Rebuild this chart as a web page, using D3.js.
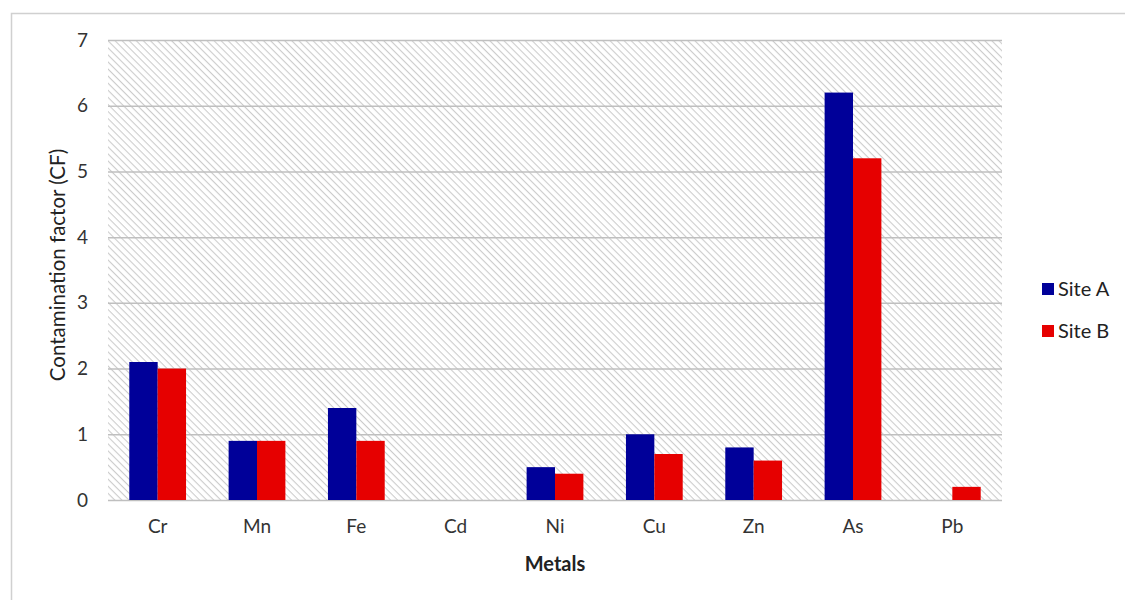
<!DOCTYPE html>
<meta charset="utf-8">
<title>Contamination factor</title>
<style>
body { margin: 0; background: #fff; }
svg { font-family: Lato, "Open Sans", sans-serif; }
.grid line { stroke: #bfbfbf; stroke-width: 1.5; }
.grid path { display: none; }
.axis path, .axis line { display: none; }
.axis text { fill: #333; font-size: 19px; font-family: Lato, "Open Sans", sans-serif; }
</style>
<svg width="1125" height="600"></svg>
<script src="https://d3js.org/d3.v7.min.js"></script>
<script>

var metals = ["Cr", "Mn", "Fe", "Cd", "Ni", "Cu", "Zn", "As", "Pb"];
var siteA = [2.1, 0.9, 1.4, 0, 0.5, 1.0, 0.8, 6.2, 0];
var siteB = [2.0, 0.9, 0.9, 0, 0.4, 0.7, 0.6, 5.2, 0.2];
var seriesNames = ["Site A", "Site B"];
var seriesColors = ["#000099", "#e60000"];
var yTicks = [0, 1, 2, 3, 4, 5, 6, 7];

var svg = d3.select("svg"),
    margin = {top: 40, right: 123, bottom: 100, left: 108},
    width = +svg.attr("width") - margin.left - margin.right,
    height = +svg.attr("height") - margin.top - margin.bottom;

// outer chart frame (only top/left visible in the picture)
svg.append("rect")
    .attr("x", 11.5).attr("y", 13.5)
    .attr("width", 1200).attr("height", 700)
    .attr("fill", "none").attr("stroke", "#d0d0d0").attr("stroke-width", 1.5);

var defs = svg.append("defs");
var pat = defs.append("pattern")
    .attr("id", "hatch")
    .attr("patternUnits", "userSpaceOnUse")
    .attr("width", 5).attr("height", 5)
    .attr("patternTransform", "rotate(45)");
pat.append("rect").attr("width", 5).attr("height", 5).attr("fill", "#ffffff");
pat.append("line")
    .attr("x1", 0).attr("y1", 0).attr("x2", 5).attr("y2", 0)
    .attr("stroke", "#cccccc").attr("stroke-width", 2.2);

var x0 = d3.scaleBand().domain(metals).range([0, width]);
var y = d3.scaleLinear().domain([0, 7]).range([height, 0]);

var g = svg.append("g")
    .attr("transform", "translate(" + margin.left + "," + margin.top + ")");

g.append("rect")
    .attr("width", width).attr("height", height)
    .attr("fill", "url(#hatch)");

g.append("g")
    .attr("class", "grid")
    .call(d3.axisLeft(y).tickValues(yTicks).tickSize(-width).tickFormat(""));

var band = x0.bandwidth();
var barW = band / 3.5;   // gap width 150%
var x1 = d3.scaleBand().domain(seriesNames).range([band / 2 - barW, band / 2 + barW]);

var rows = metals.map(function(m, i) {
  return {metal: m, values: [siteA[i], siteB[i]]};
});

var grp = g.selectAll(".metal")
    .data(rows)
    .enter().append("g")
    .attr("class", "metal")
    .attr("transform", function(d) { return "translate(" + x0(d.metal) + ",0)"; });

grp.selectAll("rect")
    .data(function(d) { return d.values.map(function(v, j) { return {s: seriesNames[j], v: v, c: seriesColors[j]}; }); })
    .enter().append("rect")
    .attr("x", function(d) { return x1(d.s); })
    .attr("width", x1.bandwidth())
    .attr("y", function(d) { return y(d.v); })
    .attr("height", function(d) { return height - y(d.v); })
    .attr("fill", function(d) { return d.c; });

g.append("g")
    .attr("class", "axis")
    .attr("transform", "translate(0," + height + ")")
    .call(d3.axisBottom(x0).tickSize(0).tickPadding(20));

g.append("g")
    .attr("class", "axis")
    .call(d3.axisLeft(y).tickValues(yTicks).tickFormat(d3.format("d")).tickSize(0).tickPadding(20));

svg.append("text")
    .attr("x", margin.left + width / 2)
    .attr("y", 571)
    .attr("text-anchor", "middle")
    .attr("font-weight", "bold")
    .attr("font-size", 20)
    .attr("fill", "#222")
    .text("Metals");

svg.append("text")
    .attr("transform", "translate(65," + (margin.top + height / 2 - 5) + ") rotate(-90)")
    .attr("text-anchor", "middle")
    .attr("font-size", 20.5)
    .attr("fill", "#222")
    .text("Contamination factor (CF)");

var legend = svg.append("g").attr("transform", "translate(1042,283)");
var li = legend.selectAll("g")
    .data(seriesNames)
    .enter().append("g")
    .attr("transform", function(d, i) { return "translate(0," + (i * 42) + ")"; });
li.append("rect")
    .attr("width", 12).attr("height", 12)
    .attr("fill", function(d, i) { return seriesColors[i]; });
li.append("text")
    .attr("x", 16).attr("y", 13)
    .attr("font-size", 20)
    .attr("fill", "#222")
    .text(function(d) { return d; });

</script>
